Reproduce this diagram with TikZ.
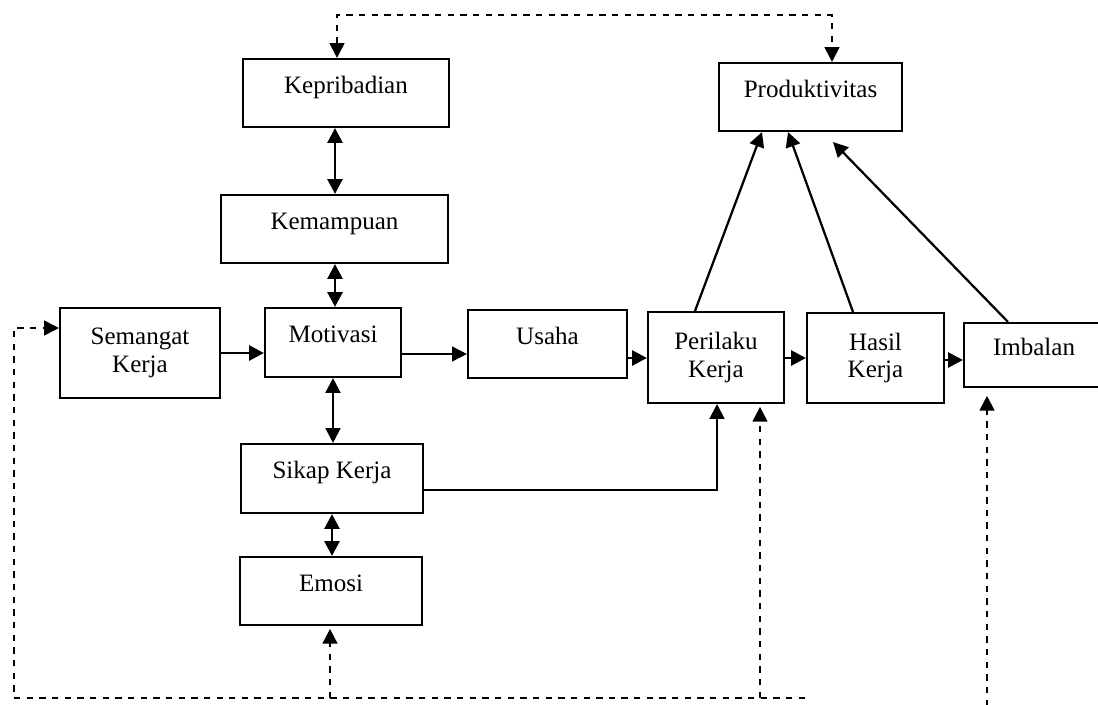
\documentclass[tikz,border=0pt]{standalone}
\usepackage{fontspec}
\setmainfont{Liberation Serif}
\usetikzlibrary{arrows.meta,calc}
\newlength\pxu
\setlength\pxu{0.025cm}
\tikzset{
  box/.style={draw, line width=1.5pt, inner sep=0pt, font=\fontsize{17.8}{19.5}\selectfont, align=center},
  one/.style={text height=9pt, text depth=9pt},
  sz/.style 2 args={minimum width=#1*\pxu, minimum height=#2*\pxu},
  tip/.style={-{Triangle[length=10.5pt,width=10.5pt]}},
  dtip/.style={{Triangle[length=10.5pt,width=10.5pt]}-{Triangle[length=10.5pt,width=10.5pt]}},
  thickln/.style={line width=2.1pt},
  thinln/.style={line width=1.1pt},
  medln/.style={line width=1.6pt},
  dashln/.style={line width=1.4pt, dash pattern=on 4.5pt off 4.5pt},
}
\begin{document}
\begin{tikzpicture}[x=0.025cm, y=-0.025cm]
\useasboundingbox (0,0) rectangle (1098,704);

\node[box,one,sz={206}{68}] (kep)  at (346,93)     {Kepribadian};
\node[box,one,sz={183}{68}] (prod) at (810.5,97)   {Produktivitas};
\node[box,one,sz={227}{68}] (kem)  at (334.5,229)  {Kemampuan};
\node[box,sz={160}{90}]     (sem)  at (140,353)    {Semangat\\Kerja};
\node[box,one,sz={136}{69}] (mot)  at (333,342.5)  {Motivasi};
\node[box,one,sz={159}{68}] (usa)  at (547.5,344)  {Usaha};
\node[box,sz={136}{91}]     (per)  at (716,357.5)  {Perilaku\\Kerja};
\node[box,sz={137}{90}]     (has)  at (875.5,358)  {Hasil\\Kerja};
\node[box,one,sz={140}{64}] (imb)  at (1034,355)   {Imbalan};
\node[box,one,sz={182}{69}] (sik)  at (332,478.5)  {Sikap Kerja};
\node[box,one,sz={182}{68}] (emo)  at (331,591)    {Emosi};

% top dashed feedback
\coordinate (tl) at (337,15);
\coordinate (tr) at (832,15);
\draw[dashln,dtip] (kep.north -| tl) -- (tl) -- (tr) -- (prod.north -| tr);

% vertical double arrows
\draw[thickln,dtip] (kep.south -| 335,0) -- (kem.north -| 335,0);
\draw[thickln,dtip] (kem.south -| 335,0) -- (mot.north -| 335,0);
\draw[medln,dtip]   (mot.south -| 333,0) -- (sik.north -| 333,0);
\draw[thickln,dtip] (sik.south -| 332,0) -- (emo.north -| 332,0);

% horizontal chain
\draw[thickln,tip] (sem.east |- 0,353) -- (mot.west |- 0,353);
\draw[thinln,tip]  (mot.east |- 0,354) -- (usa.west |- 0,354);
\draw[thickln,tip] (usa.east |- 0,358) -- (per.west |- 0,358);
\draw[thickln,tip] (per.east |- 0,358) -- (has.west |- 0,358);
\draw[thickln,tip] (has.east |- 0,360) -- (imb.west |- 0,360);

% sikap kerja to perilaku kerja
\draw[medln,tip] (sik.east |- 0,490) -| (per.south -| 717,0);

% to produktivitas
\coordinate (p3) at (833,142);
\draw[medln,tip] (per.north -| 695,0) -- (prod.south -| 762,0);
\draw[medln,tip] (has.north -| 853,0) -- (prod.south -| 788,0);
\draw[medln,tip] (imb.north -| 1008,0) -- (p3);

% bottom dashed feedback
\coordinate (br) at (805,698);
\coordinate (bl) at (14,698);
\coordinate (be) at (330,698);
\coordinate (bp) at (760,698);
\coordinate (bi) at (987,706);
\draw[dashln,tip] (br) -- (bl) |- (sem.west |- 0,328);
\draw[dashln,tip,shorten >=2pt] (be) -- (emo.south -| be);
\draw[dashln,tip,shorten >=2pt] (bp) -- (per.south -| bp);
\draw[dashln,tip,shorten >=5.5pt] (bi) -- (imb.south -| bi);
\end{tikzpicture}
\end{document}
